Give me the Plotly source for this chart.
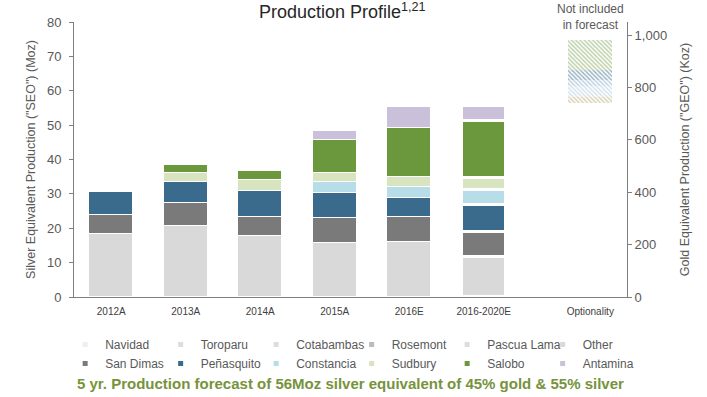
import numpy as np
import plotly.graph_objects as go

# ---------------- data ----------------
categories = ["2012A", "2013A", "2014A", "2015A", "2016E", "2016-2020E"]
optionality_label = "Optionality"

other      = [18.2, 20.7, 17.8, 15.6, 16.1, 11.5]
san_dimas  = [5.7, 6.7, 5.5, 7.4, 7.2, 7.5]
penasquito = [6.6, 6.0, 7.5, 7.3, 5.4, 7.8]
constancia = [0.0, 0.0, 0.0, 3.2, 3.3, 4.2]
sudbury    = [0.0, 2.8, 3.1, 2.7, 2.9, 3.7]
salobo     = [0.0, 2.1, 2.7, 9.4, 14.3, 16.5]
antamina   = [0.0, 0.0, 0.0, 2.6, 6.0, 4.5]

# optionality (not included in forecast), stacked from bottom
optionality_base = 56.5
navidad     = 1.8
toroparu    = 3.0
cotabambas  = 1.9
rosemont    = 2.7
pascua_lama = 9.0

left_ticks = [0, 10, 20, 30, 40, 50, 60, 70, 80]
right_ticks = [0, 200, 400, 600, 800, 1000]

# ---------------- styling ----------------
FONT = "Liberation Sans, Arial, sans-serif"
GRAY = "#595959"
AXIS = "#7f7f7f"

colors = {
    "Other": "#d9d9d9",
    "San Dimas": "#7a7a7a",
    "Peñasquito": "#3a6a8c",
    "Constancia": "#b7dde8",
    "Sudbury": "#d8e4bf",
    "Salobo": "#6b983c",
    "Antamina": "#cbc0da",
}
opt_colors = {
    "Navidad": "#b8a46a",
    "Toroparu": "#a9c8da",
    "Cotabambas": "#7fa6c2",
    "Rosemont": "#3a6a8c",
    "Pascua Lama": "#7fa457",
}
legend_opt_colors = {
    "Navidad": "#eeeeee",
    "Toroparu": "#dddddd",
    "Cotabambas": "#dddddd",
    "Rosemont": "#bbbbbb",
    "Pascua Lama": "#dddddd",
}

x_pos = list(range(len(categories)))
opt_x = 6.43
bar_w = 0.59

fig = go.Figure()

series = [
    ("Other", other),
    ("San Dimas", san_dimas),
    ("Peñasquito", penasquito),
    ("Constancia", constancia),
    ("Sudbury", sudbury),
    ("Salobo", salobo),
    ("Antamina", antamina),
]
line_w = [1.5, 1.5, 1.5, 1.5, 1.5, 3.0]
for name, vals in series:
    fig.add_trace(go.Bar(
        x=x_pos, y=vals, name=name, width=bar_w, showlegend=False,
        marker=dict(color=colors[name], line=dict(color="white", width=line_w)),
        hoverinfo="name+y",
    ))

opt_series = [
    ("Navidad", navidad),
    ("Toroparu", toroparu),
    ("Cotabambas", cotabambas),
    ("Rosemont", rosemont),
    ("Pascua Lama", pascua_lama),
]
opt_vals = np.array([v for _, v in opt_series])
opt_bases = optionality_base + np.concatenate([[0], np.cumsum(opt_vals)[:-1]])
for (name, val), b in zip(opt_series, opt_bases):
    fig.add_trace(go.Bar(
        x=[opt_x], y=[val], base=[b], name=name, width=bar_w, showlegend=False,
        marker=dict(color=opt_colors[name], line=dict(width=0),
                    pattern=dict(shape="\\", fgcolor=opt_colors[name], bgcolor="white",
                                 size=3, solidity=0.5)),
        hoverinfo="name+y",
    ))

# legend entries (small square markers)
legend_order = ["Navidad", "Toroparu", "Cotabambas", "Rosemont", "Pascua Lama",
                "Other", "San Dimas", "Peñasquito", "Constancia", "Sudbury", "Salobo", "Antamina"]
for name in legend_order:
    c = legend_opt_colors.get(name, colors.get(name))
    fig.add_trace(go.Scatter(
        x=[None], y=[None], mode="markers", name=name,
        marker=dict(symbol="square", size=5, color=c), hoverinfo="skip",
    ))

# invisible trace for the right axis
fig.add_trace(go.Scatter(x=[None], y=[None], yaxis="y2", showlegend=False, hoverinfo="skip"))

fig.update_layout(
    width=707, height=397,
    margin=dict(l=74, r=80, t=22, b=100, autoexpand=False),
    paper_bgcolor="white", plot_bgcolor="white",
    barmode="stack", bargap=0,
    font=dict(family=FONT, color=GRAY, size=12),
    title=dict(text="Production Profile<sup>1,21</sup>", x=0.484, xanchor="center",
               y=0.97, yanchor="middle", font=dict(size=18, color="#262626"),
               automargin=False),
    xaxis=dict(
        range=[-0.5, 6.923], tickvals=x_pos + [opt_x], automargin=False,
        ticktext=categories + [optionality_label], showgrid=False, zeroline=False,
        showline=True, linecolor=AXIS, linewidth=1, ticks="", ticklabelstandoff=5,
        tickfont=dict(size=10, color="#404040"),
    ),
    yaxis=dict(
        range=[0, 80], tickvals=left_ticks, showgrid=False, zeroline=False, automargin=False,
        showline=True, linecolor=AXIS, linewidth=1, ticks="outside", ticklen=4,
        ticklabelstandoff=5,
        tickcolor=AXIS, tickfont=dict(size=13, color=GRAY),
        title=dict(text="Silver Equivalent Production (\"SEO\") (Moz)",
                   font=dict(size=12.5, color=GRAY), standoff=8),
    ),
    yaxis2=dict(
        range=[0, 1050], tickvals=right_ticks, tickformat=",", overlaying="y", side="right",
        showgrid=False, zeroline=False, showline=True, linecolor=AXIS, linewidth=1,
        automargin=False,
        ticks="outside", ticklen=4, tickcolor=AXIS, tickfont=dict(size=13, color=GRAY),
        title=dict(text="Gold Equivalent Production (\"GEO\") (Koz)",
                   font=dict(size=12.5, color=GRAY), standoff=14),
    ),
    legend=dict(
        orientation="h", x=-0.016, xanchor="left", y=-0.12, yanchor="top",
        entrywidth=50.5, entrywidthmode="pixels", itemwidth=30, traceorder="normal",
        font=dict(size=12, color=GRAY), bgcolor="rgba(0,0,0,0)",
    ),
    showlegend=True,
)

fig.add_annotation(
    text="Not included<br>in forecast", x=opt_x, xref="x", y=1.018, yref="paper",
    showarrow=False, font=dict(size=12, color=GRAY), yanchor="middle", xanchor="center",
)
fig.add_annotation(
    text="<b>5 yr. Production forecast of 56Moz silver equivalent of 45% gold &amp; 55% silver</b>",
    x=0.5, xref="paper", y=-0.313, yref="paper", showarrow=False,
    font=dict(size=15, color="#77933c"), xanchor="center", yanchor="middle",
)

fig.write_html(
    "out.html",
    config={"displayModeBar": False},
    post_script="document.body.style.margin='0';document.body.style.overflow='hidden';",
)
